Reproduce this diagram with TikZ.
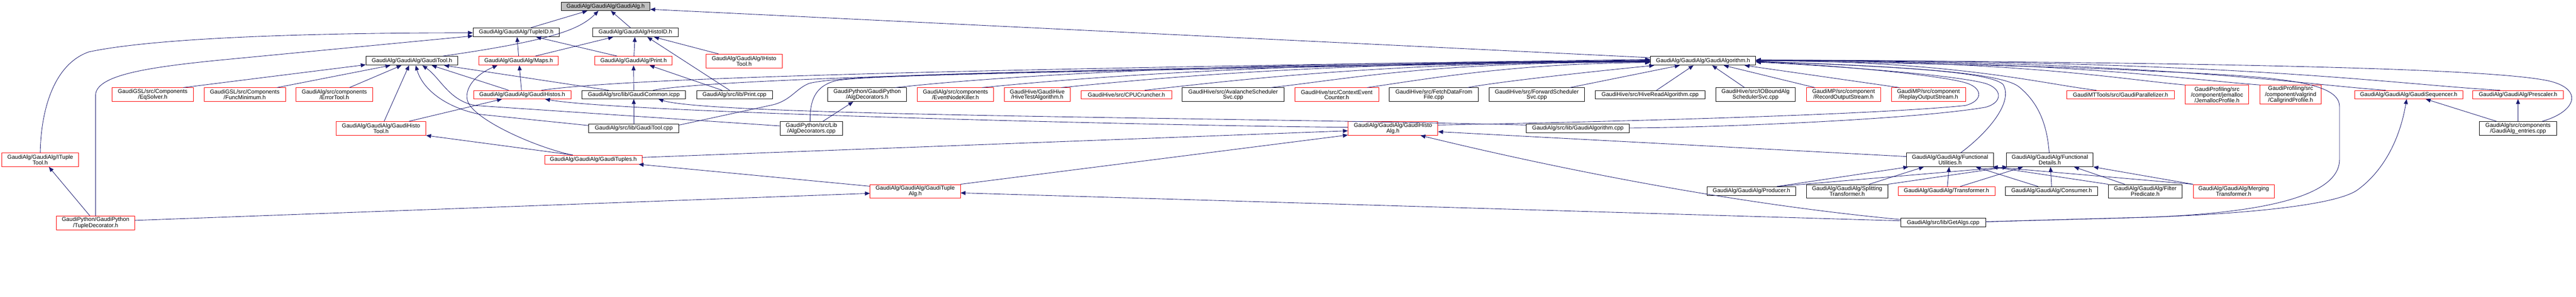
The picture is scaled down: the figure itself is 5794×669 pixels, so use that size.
\documentclass[tikz,border=0pt]{standalone}
\usepackage{fontspec}
\setmainfont{Liberation Sans}
\usetikzlibrary{arrows.meta}
\definecolor{edgec}{RGB}{25,25,112}
\definecolor{rootfill}{RGB}{191,191,191}
\definecolor{nred}{RGB}{255,0,0}
\newcommand\lblfont{\fontsize{12.8pt}{11.7pt}\selectfont}
\tikzset{
  nb/.style={draw=black, fill=white, line width=1pt, inner sep=0pt, align=center, font=\lblfont, text=black},
  nr/.style={nb, draw=nred},
  ng/.style={nb, fill=rootfill},
  sz/.style 2 args={minimum width=#1pt, minimum height=#2pt},
  dep/.style={draw=edgec, line width=1pt, {Triangle[length=11pt,width=9pt]}-}
}
\begin{document}
\begin{tikzpicture}[x=1pt,y=-1pt]
\useasboundingbox (0,0) rectangle (5794,669);
% ---------- nodes ----------
\node[ng,sz={200}{19}] (galg) at (1362,14.5) {GaudiAlg/GaudiAlg/GaudiAlg.h};
\node[nb,sz={194}{20}] (tupleid) at (1161,73) {GaudiAlg/GaudiAlg/TupleID.h};
\node[nb,sz={192}{20}] (histoid) at (1429,73) {GaudiAlg/GaudiAlg/HistoID.h};
\node[nb,sz={207}{20}] (gtool) at (926.5,137) {GaudiAlg/GaudiAlg/GaudiTool.h};
\node[nr,sz={179}{20}] (maps) at (1166.5,137) {GaudiAlg/GaudiAlg/Maps.h};
\node[nr,sz={174}{20}] (printh) at (1425,137) {GaudiAlg/GaudiAlg/Print.h};
\node[nr,sz={171}{31}] (ihisto) at (1673.5,137.5) {GaudiAlg/GaudiAlg/IHisto\\Tool.h};
\node[nb,sz={237}{20}] (galgo) at (3830.5,137) {GaudiAlg/GaudiAlg/GaudiAlgorithm.h};
\node[nr,sz={183}{31}] (eqsolver) at (343.5,213.5) {GaudiGSL/src/Components\\/EqSolver.h};
\node[nr,sz={183}{31}] (funcmin) at (550.5,213.5) {GaudiGSL/src/Components\\/FuncMinimum.h};
\node[nr,sz={172}{31}] (errortool) at (752,213.5) {GaudiAlg/src/components\\/ErrorTool.h};
\node[nr,sz={219}{19}] (histos) at (1174.5,213.5) {GaudiAlg/GaudiAlg/GaudiHistos.h};
\node[nb,sz={233}{19}] (common) at (1425.5,213.5) {GaudiAlg/src/lib/GaudiCommon.icpp};
\node[nb,sz={170}{19}] (printcpp) at (1652,213.5) {GaudiAlg/src/lib/Print.cpp};
\node[nb,sz={177}{31}] (algdech) at (1950.5,213.5) {GaudiPython/GaudiPython\\/AlgDecorators.h};
\node[nr,sz={172}{31}] (nodekiller) at (2149,213.5) {GaudiAlg/src/components\\/EventNodeKiller.h};
\node[nr,sz={148}{31}] (hivetest) at (2333,213.5) {GaudiHive/GaudiHive\\/HiveTestAlgorithm.h};
\node[nr,sz={203}{19}] (cpucr) at (2533.5,213.5) {GaudiHive/src/CPUCruncher.h};
\node[nb,sz={229}{31}] (avalanche) at (2773.5,213.5) {GaudiHive/src/AvalancheScheduler\\Svc.cpp};
\node[nr,sz={189}{31}] (ctxcounter) at (3006.5,213.5) {GaudiHive/src/ContextEvent\\Counter.h};
\node[nb,sz={200}{31}] (fetch) at (3225,213.5) {GaudiHive/src/FetchDataFrom\\File.cpp};
\node[nb,sz={215}{31}] (forward) at (3456.5,213.5) {GaudiHive/src/ForwardScheduler\\Svc.cpp};
\node[nb,sz={247}{19}] (hiveread) at (3711.5,213.5) {GaudiHive/src/HiveReadAlgorithm.cpp};
\node[nb,sz={179}{31}] (iobound) at (3948.5,213.5) {GaudiHive/src/IOBoundAlg\\SchedulerSvc.cpp};
\node[nr,sz={167}{31}] (record) at (4146.5,213.5) {GaudiMP/src/component\\/RecordOutputStream.h};
\node[nr,sz={167}{31}] (replay) at (4337.5,213.5) {GaudiMP/src/component\\/ReplayOutputStream.h};
\node[nr,sz={243}{19}] (parallel) at (4769.5,213.5) {GaudiMTTools/src/GaudiParallelizer.h};
\node[nr,sz={143}{43}] (jemalloc) at (4986.5,213.5) {GaudiProfiling/src\\/component/jemalloc\\/JemallocProfile.h};
\node[nr,sz={138}{43}] (callgrind) at (5152,213.5) {GaudiProfiling/src\\/component/valgrind\\/CallgrindProfile.h};
\node[nr,sz={243}{19}] (sequencer) at (5417.5,213.5) {GaudiAlg/GaudiAlg/GaudiSequencer.h};
\node[nr,sz={203}{19}] (prescaler) at (5663.5,213.5) {GaudiAlg/GaudiAlg/Prescaler.h};
\node[nr,sz={202}{31}] (histotool) at (857,289.5) {GaudiAlg/GaudiAlg/GaudiHisto\\Tool.h};
\node[nb,sz={203}{19}] (gtoolcpp) at (1425.5,289.5) {GaudiAlg/src/lib/GaudiTool.cpp};
\node[nb,sz={140}{31}] (algdeccpp) at (1825,289.5) {GaudiPython/src/Lib\\/AlgDecorators.cpp};
\node[nr,sz={202}{31}] (histoalg) at (3133,289.5) {GaudiAlg/GaudiAlg/GaudiHisto\\Alg.h};
\node[nb,sz={232}{19}] (galgocpp) at (3549,289.5) {GaudiAlg/src/lib/GaudiAlgorithm.cpp};
\node[nb,sz={173}{31}] (entries) at (5663.5,289.5) {GaudiAlg/src/components\\/GaudiAlg\_entries.cpp};
\node[nr,sz={173}{31}] (ituple) at (90.5,360.5) {GaudiAlg/GaudiAlg/ITuple\\Tool.h};
\node[nr,sz={219}{20}] (tuples) at (1334.5,360) {GaudiAlg/GaudiAlg/GaudiTuples.h};
\node[nb,sz={196}{31}] (futil) at (4386,360.5) {GaudiAlg/GaudiAlg/Functional\\Utilities.h};
\node[nb,sz={195}{31}] (fdet) at (4610.5,360.5) {GaudiAlg/GaudiAlg/Functional\\Details.h};
\node[nr,sz={203}{31}] (tuplealg) at (2058.5,431.5) {GaudiAlg/GaudiAlg/GaudiTuple\\Alg.h};
\node[nb,sz={199}{20}] (producer) at (3939.5,431) {GaudiAlg/GaudiAlg/Producer.h};
\node[nb,sz={183}{31}] (splitting) at (4154.5,431.5) {GaudiAlg/GaudiAlg/Splitting\\Transformer.h};
\node[nr,sz={218}{20}] (transformer) at (4378,431) {GaudiAlg/GaudiAlg/Transformer.h};
\node[nb,sz={207}{20}] (consumer) at (4614.5,431) {GaudiAlg/GaudiAlg/Consumer.h};
\node[nb,sz={166}{31}] (filterpred) at (4825,431.5) {GaudiAlg/GaudiAlg/Filter\\Predicate.h};
\node[nr,sz={182}{31}] (merging) at (5024,431.5) {GaudiAlg/GaudiAlg/Merging\\Transformer.h};
\node[nr,sz={176}{31}] (tupledec) at (215,502.5) {GaudiPython/GaudiPython\\/TupleDecorator.h};
\node[nb,sz={191}{20}] (getalgs) at (4370.5,502) {GaudiAlg/src/lib/GetAlgs.cpp};
% ---------- edges ----------
\draw[dep] ([xshift=-41pt]galg.south) -- ([xshift=33pt]tupleid.north);
\draw[dep] ([xshift=-16pt]galg.south) .. controls (1305,65) and (1250,90) .. ([xshift=69.5pt]gtool.north);
\draw[dep] ([xshift=12pt]galg.south) -- ([xshift=-11pt]histoid.north);
\draw[dep] ([yshift=-6.5pt]galg.east) -- ([yshift=7pt]galgo.west);
\draw[dep] ([yshift=-1pt]tupleid.west) .. controls (700,74) and (350,85) .. (200,117) .. controls (120,145) and (92,250) .. (ituple.north);
\draw[dep] ([yshift=-8pt]tupleid.west) -- (490,136) .. controls (330,152) and (215,170) .. (215,215) -- (tupledec.north);
\draw[dep] ([xshift=2pt]tupleid.south) -- (maps.north);
\draw[dep] ([xshift=45pt]tupleid.south) -- ([xshift=-37pt]printh.north);
\draw[dep] ([xshift=-50pt]histoid.south) -- ([xshift=37.5pt]maps.north);
\draw[dep] ([xshift=-1pt]histoid.south) -- ([xshift=1pt]printh.north);
\draw[dep] ([xshift=27pt]histoid.south) -- ([xshift=-11pt]printcpp.north);
\draw[dep] ([xshift=42pt]histoid.south) -- ([xshift=-57.5pt]ihisto.north);
\draw[dep] ([yshift=-9pt]gtool.west) -- ([xshift=68.5pt]eqsolver.north);
\draw[dep] ([xshift=-48.5pt]gtool.south) -- ([xshift=72.5pt]funcmin.north);
\draw[dep] ([xshift=-23.5pt]gtool.south) -- ([xshift=34pt]errortool.north);
\draw[dep] ([xshift=-6.5pt]gtool.south) -- ([xshift=7pt]histotool.north);
\draw[dep] ([xshift=8.5pt]gtool.south) .. controls (950,200) and (1000,242) .. (1080,258) -- ([yshift=6.5pt]gtoolcpp.west);
\draw[dep] ([xshift=23.5pt]gtool.south) .. controls (990,175) and (1010,228) .. (1070,238) -- ([yshift=5.5pt]algdeccpp.west);
\draw[dep] ([xshift=44.5pt]gtool.south) -- ([xshift=-30.5pt]histos.north);
\draw[dep] ([xshift=72.5pt]gtool.south) -- ([xshift=-56.5pt]common.north);
\draw[dep] ([xshift=-47.5pt]maps.south) .. controls (1060,172) and (1040,210) .. (1055,235) .. controls (1080,275) and (1200,330) .. ([xshift=-48.5pt]tuples.north);
\draw[dep] ([xshift=1.5pt]maps.south) -- ([xshift=-1.5pt]histos.north);
\draw[dep] (printh.south) -- (common.north);
\draw[dep] ([xshift=36pt]printh.south) -- ([xshift=-28pt]printcpp.north);
\draw[dep] ([xshift=-45.5pt]histos.south) -- ([xshift=63pt]histotool.north);
\draw[dep] ([xshift=51.5pt]histos.south) .. controls (1400,255) and (2700,285) .. ([yshift=2.5pt]histoalg.west);
\draw[dep] (common.south) -- (gtoolcpp.north);
\draw[dep] ([xshift=55.5pt]common.south) .. controls (1600,262) and (2800,265) .. ([yshift=7.5pt]galgocpp.west);
\draw[dep] (histotool.south east) -- ([xshift=-46pt]tuples.north);
\draw[dep] ([xshift=19.5pt]ituple.south) -- ([xshift=-13pt]tupledec.north);
\draw[dep] ([yshift=-4.5pt]tuplealg.west) -- ([yshift=5.5pt]tupledec.east);
\draw[dep] ([xshift=-8pt]tuples.south east) -- ([yshift=11.5pt]tuplealg.west);
\draw[dep] ([yshift=-5.5pt]histoalg.west) -- ([yshift=5pt]tuples.east);
\draw[dep] ([yshift=1pt]histoalg.south west) -- (tuplealg.north east);
\draw[dep] ([yshift=-7.5pt]histoalg.east) -- ([yshift=7.5pt]futil.west);
\draw[dep] ([xshift=62pt]histoalg.south) .. controls (3500,380) and (3900,460) .. ([yshift=7pt]getalgs.west);
\draw[dep] ([yshift=-3.5pt]tuplealg.east) -- ([yshift=4pt]getalgs.west);
\draw[dep] ([xshift=-31.5pt]algdech.south) -- ([xshift=26pt]algdeccpp.north);
\draw[dep] ([xshift=38.5pt]sequencer.south) -- ([xshift=-48.5pt]entries.north);
\draw[dep] (prescaler.south) -- (entries.north);
\draw[dep] ([xshift=-4.5pt]sequencer.south) .. controls (5395,330) and (5350,395) .. (5300,430) .. controls (5240,468) and (5000,484) .. (4830,490) -- ([yshift=2pt]getalgs.east);
% GaudiAlgorithm.h from the left
\draw[dep] ([yshift=3pt]galgo.west) .. controls (2000,158) and (1400,178) .. ([xshift=43.5pt]histos.north);
\draw[dep] ([yshift=2pt]galgo.west) .. controls (2200,160) and (1600,180) .. ([xshift=43.5pt]common.north);
\draw[dep] ([yshift=1pt]galgo.west) .. controls (2300,160) and (1900,168) .. (1820,188) .. controls (1790,200) and (1780,225) .. (1740,236) -- ([yshift=7.5pt]gtoolcpp.east);
\draw[dep] (galgo.west) .. controls (2500,160) and (1950,168) .. (1880,182) .. controls (1830,195) and (1822,230) .. ([xshift=-3pt]algdeccpp.north);
\draw[dep] ([yshift=-1pt]galgo.west) .. controls +(-900,0) and +(250,-28) .. ([xshift=63.5pt]algdech.north);
\draw[dep] ([yshift=-1.5pt]galgo.west) .. controls +(-800,0) and +(250,-25) .. ([xshift=60pt]nodekiller.north);
\draw[dep] ([yshift=-2pt]galgo.west) .. controls +(-700,0) and +(250,-25) .. ([xshift=54pt]hivetest.north);
\draw[dep] ([yshift=-2.5pt]galgo.west) .. controls +(-600,0) and +(200,-22) .. ([xshift=41.5pt]cpucr.north);
\draw[dep] ([yshift=-3pt]galgo.west) .. controls +(-500,0) and +(180,-20) .. ([xshift=84.5pt]avalanche.north);
\draw[dep] ([yshift=-4pt]galgo.west) .. controls +(-300,2) and +(150,-22) .. ([xshift=68.5pt]ctxcounter.north);
\draw[dep] ([xshift=-110pt]galgo.south) .. controls +(-200,20) and +(50,-10) .. ([xshift=76pt]fetch.north);
\draw[dep] ([xshift=-52.5pt]galgo.south) -- ([xshift=74.5pt]forward.north);
\draw[dep] ([xshift=-21.5pt]galgo.south) -- ([xshift=14.5pt]hiveread.north);
\draw[dep] ([xshift=20.5pt]galgo.south) -- ([xshift=-24.5pt]iobound.north);
\draw[dep] ([xshift=46.5pt]galgo.south) -- ([xshift=-64.5pt]record.north);
\draw[dep] ([xshift=93.5pt]galgo.south) -- ([xshift=-65.5pt]replay.north);
% GaudiAlgorithm.h from the right
\draw[dep] ([yshift=2pt]galgo.east) .. controls (4800,140) and (5550,150) .. (5720,180) .. controls (5812,195) and (5800,250) .. ([xshift=54.5pt]entries.north);
\draw[dep] ([yshift=1.5pt]galgo.east) .. controls +(1100,0) and +(-250,-14) .. ([xshift=-40.5pt]prescaler.north);
\draw[dep] ([yshift=1pt]galgo.east) .. controls +(900,0) and +(-200,-14) .. ([xshift=-51.5pt]sequencer.north);
\draw[dep] ([yshift=0.5pt]galgo.east) .. controls +(700,0) and +(-200,-15) .. (callgrind.north west);
\draw[dep] ([yshift=0.5pt]galgo.east) .. controls +(600,0) and +(-150,-13) .. (jemalloc.north west);
\draw[dep] (galgo.east) .. controls +(450,0) and +(-120,-14) .. ([xshift=-54.5pt]parallel.north);
\draw[dep] ([yshift=1pt]galgo.east) .. controls (4400,145) and (4700,152) .. (4830,160) .. controls (5100,172) and (5262,180) .. (5262,240) -- (5262,360) .. controls (5262,440) and (5100,480) .. (4830,490) -- ([yshift=2pt]getalgs.east);
\draw[dep] ([yshift=-1pt]galgo.east) .. controls (4250,150) and (4470,160) .. (4505,190) .. controls (4530,230) and (4470,300) .. ([xshift=24pt]futil.north);
\draw[dep] ([yshift=-1.5pt]galgo.east) .. controls (4300,150) and (4500,165) .. (4540,195) .. controls (4590,235) and (4605,290) .. ([xshift=-1.5pt]fdet.north);
\draw[dep] ([yshift=-2pt]galgo.east) .. controls (4150,148) and (4380,172) .. (4425,188) .. controls (4460,200) and (4460,228) .. (4420,238) .. controls (4200,260) and (3600,275) .. ([yshift=7.5pt]histoalg.east);
\draw[dep] ([yshift=-3pt]galgo.east) .. controls (4150,150) and (4400,170) .. (4465,188) .. controls (4505,200) and (4505,232) .. (4465,242) .. controls (4300,270) and (3850,288) .. ([yshift=1pt]galgocpp.east);
% functional headers
\draw[dep] ([xshift=-94pt]futil.south) -- ([xshift=57.5pt]producer.north);
\draw[dep] ([xshift=-95.5pt]fdet.south) -- ([xshift=57.5pt]producer.north);
\draw[dep] ([xshift=-59pt]futil.south) -- ([xshift=49.5pt]splitting.north);
\draw[dep] ([xshift=-95.5pt]fdet.south) -- (splitting.north east);
\draw[dep] ([xshift=-2pt]futil.south) -- ([xshift=2pt]transformer.north);
\draw[dep] ([xshift=-60.5pt]fdet.south) -- ([xshift=31pt]transformer.north);
\draw[dep] ([xshift=58pt]futil.south) -- ([xshift=-30.5pt]consumer.north);
\draw[dep] ([xshift=1.5pt]fdet.south) -- (consumer.north);
\draw[dep] ([xshift=54.5pt]fdet.south) -- ([xshift=-46pt]filterpred.north);
\draw[dep] ([xshift=96pt]futil.south) -- (filterpred.north west);
\draw[dep] (fdet.south east) -- (merging.north west);
\draw[dep] ([xshift=96pt]futil.south) -- (merging.north west);
\end{tikzpicture}
\end{document}
